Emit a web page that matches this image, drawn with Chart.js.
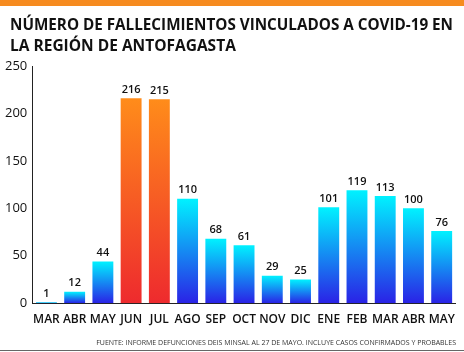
<!DOCTYPE html>
<html>
<head>
<meta charset="utf-8">
<script src="https://cdn.jsdelivr.net/npm/chart.js@4"></script>
<style>
  html, body { margin: 0; padding: 0; background: #fff; }
  #wrap { width: 464px; height: 352px; }
</style>
</head>
<body>
<div id="wrap"><canvas id="myChart" width="464" height="352"></canvas></div>
<script>
const months = ['MAR', 'ABR', 'MAY', 'JUN', 'JUL', 'AGO', 'SEP', 'OCT', 'NOV', 'DIC', 'ENE', 'FEB', 'MAR', 'ABR', 'MAY'];
const deaths = [1, 12, 44, 216, 215, 110, 68, 61, 29, 25, 101, 119, 113, 100, 76];
const peakMonths = [3, 4];
const yTicks = [0, 50, 100, 150, 200, 250];
const titleLines = ['NÚMERO DE FALLECIMIENTOS VINCULADOS A COVID-19 EN', 'LA REGIÓN DE ANTOFAGASTA'];

function barGradient(context) {
  const chart = context.chart;
  if (!chart.chartArea || !chart.scales.y) {
    return;
  }
  const yScale = chart.scales.y;
  const top = yScale.getPixelForValue(deaths[context.dataIndex]);
  let bottom = yScale.getPixelForValue(0);
  if (bottom - top < 1) {
    bottom = top + 1;
  }
  const g = chart.ctx.createLinearGradient(0, top, 0, bottom);
  if (peakMonths.includes(context.dataIndex)) {
    g.addColorStop(0, '#ff8c1a');
    g.addColorStop(1, '#ee2a2e');
  } else {
    g.addColorStop(0, '#00f2ff');
    g.addColorStop(1, '#2a22e6');
  }
  return g;
}

const decorations = {
  id: 'decorations',
  beforeDraw(chart) {
    const { ctx } = chart;
    ctx.save();
    ctx.fillStyle = '#f68b1f';
    ctx.fillRect(0, 0, chart.width, 6);
    ctx.strokeStyle = '#666';
    ctx.lineWidth = 1;
    ctx.beginPath();
    ctx.moveTo(0, 350.5);
    ctx.lineTo(chart.width, 350.5);
    ctx.stroke();
    // title
    ctx.fillStyle = '#111';
    ctx.font = 'bold 15.5px "Open Sans", sans-serif';
    ctx.textAlign = 'left';
    ctx.textBaseline = 'alphabetic';
    ctx.fillText(titleLines[0], 10, 30, 443);
    ctx.fillText(titleLines[1], 10, 51);
    ctx.restore();
  },
  afterDatasetsDraw(chart) {
    const { ctx } = chart;
    const meta = chart.getDatasetMeta(0);
    ctx.save();
    ctx.fillStyle = '#111';
    ctx.font = '600 11px "Open Sans", sans-serif';
    ctx.textAlign = 'center';
    ctx.textBaseline = 'bottom';
    meta.data.forEach((bar, i) => {
      ctx.fillText(deaths[i], bar.x, bar.y - 3);
    });
    ctx.restore();
  },
};

new Chart(document.getElementById('myChart'), {
  type: 'bar',
  data: {
    labels: months,
    datasets: [
      {
        label: 'Fallecimientos',
        data: deaths,
        backgroundColor: barGradient,
        borderWidth: 0,
        barPercentage: 0.74,
        categoryPercentage: 1,
      },
    ],
  },
  options: {
    responsive: false,
    animation: false,
    layout: {
      padding: { left: 0, right: 8, top: 66, bottom: 0 },
    },
    scales: {
      y: {
        min: 0,
        max: 250,
        afterBuildTicks: (axis) => {
          axis.ticks = yTicks.map((v) => ({ value: v }));
        },
        grid: { display: false, drawTicks: false },
        border: { display: true, color: '#222', width: 1 },
        ticks: {
          color: '#111',
          padding: 5,
          font: { size: 13, family: "'Open Sans', sans-serif", weight: 500 },
        },
      },
      x: {
        grid: { display: false, drawTicks: false },
        border: { display: true, color: '#222', width: 1 },
        ticks: {
          color: '#111',
          padding: 9,
          maxRotation: 0,
          autoSkip: false,
          font: { size: 12, family: "'Open Sans', sans-serif", weight: 600 },
        },
      },
    },
    plugins: {
      legend: { display: false },
      tooltip: { enabled: false },
      title: { display: false },
      subtitle: {
        display: true,
        position: 'bottom',
        align: 'end',
        text: 'FUENTE: INFORME DEFUNCIONES DEIS MINSAL AL 27 DE MAYO. INCLUYE CASOS CONFIRMADOS Y PROBABLES',
        color: '#333',
        font: { size: 7, family: "'Open Sans', sans-serif" },
        padding: { top: 3, bottom: 5 },
      },
    },
  },
  plugins: [decorations],
});
</script>
</body>
</html>
